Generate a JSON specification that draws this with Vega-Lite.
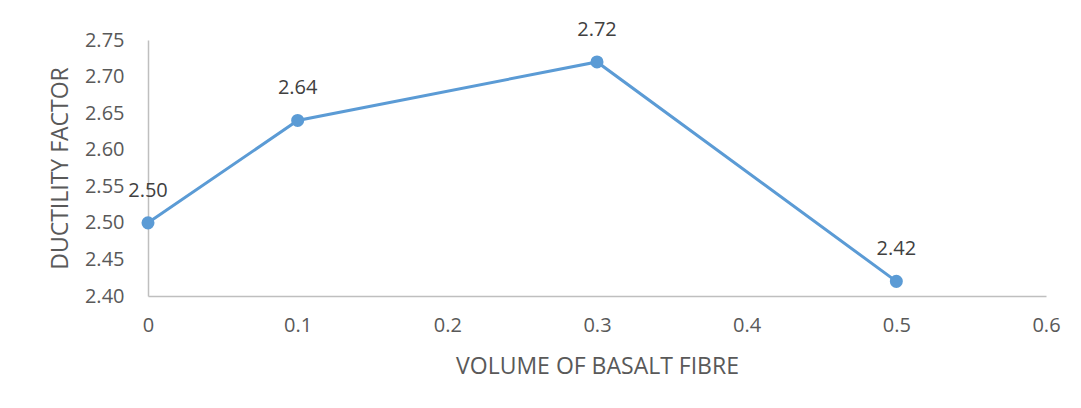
{
  "$schema": "https://vega.github.io/schema/vega-lite/v6.json",
  "autosize": "none",
  "width": 898,
  "height": 256,
  "padding": {"left": 148, "top": 40, "right": 35, "bottom": 112},
  "background": "white",
  "data": {"values": [
    {"volume": 0, "ductility": 2.50, "label": "2.50"},
    {"volume": 0.1, "ductility": 2.64, "label": "2.64"},
    {"volume": 0.3, "ductility": 2.72, "label": "2.72"},
    {"volume": 0.5, "ductility": 2.42, "label": "2.42"}
  ]},
  "encoding": {
    "x": {"field": "volume", "type": "quantitative",
      "scale": {"domain": [0, 0.6], "nice": false},
      "axis": {"title": "VOLUME OF BASALT FIBRE", "values": [0, 0.1, 0.2, 0.3, 0.4, 0.5, 0.6], "format": "~g",
        "grid": false, "ticks": false, "domainColor": "#bfbfbf", "domainWidth": 1.5, "labelFlush": false,
        "labelPadding": 19, "titlePadding": 20}},
    "y": {"field": "ductility", "type": "quantitative",
      "scale": {"domain": [2.40, 2.75], "nice": false, "zero": false},
      "axis": {"title": "DUCTILITY FACTOR", "values": [2.40, 2.45, 2.50, 2.55, 2.60, 2.65, 2.70, 2.75], "format": ".2f",
        "grid": false, "ticks": false, "domainColor": "#bfbfbf", "domainWidth": 1.5, "labelFlush": false,
        "labelPadding": 24, "titlePadding": 12}}
  },
  "layer": [
    {"mark": {"type": "line", "color": "#5b9bd5", "strokeWidth": 3}},
    {"mark": {"type": "point", "filled": true, "color": "#5b9bd5", "size": 170, "opacity": 1}},
    {"mark": {"type": "text", "dy": -32, "fontSize": 20, "color": "#404040", "font": "Open Sans"},
     "encoding": {"text": {"field": "label"}}}
  ],
  "config": {
    "view": {"stroke": null},
    "axis": {"labelFont": "Open Sans", "titleFont": "Open Sans", "labelFontSize": 20, "titleFontSize": 23,
      "labelColor": "#595959", "titleColor": "#595959", "titleFontWeight": "normal"}
  }
}
